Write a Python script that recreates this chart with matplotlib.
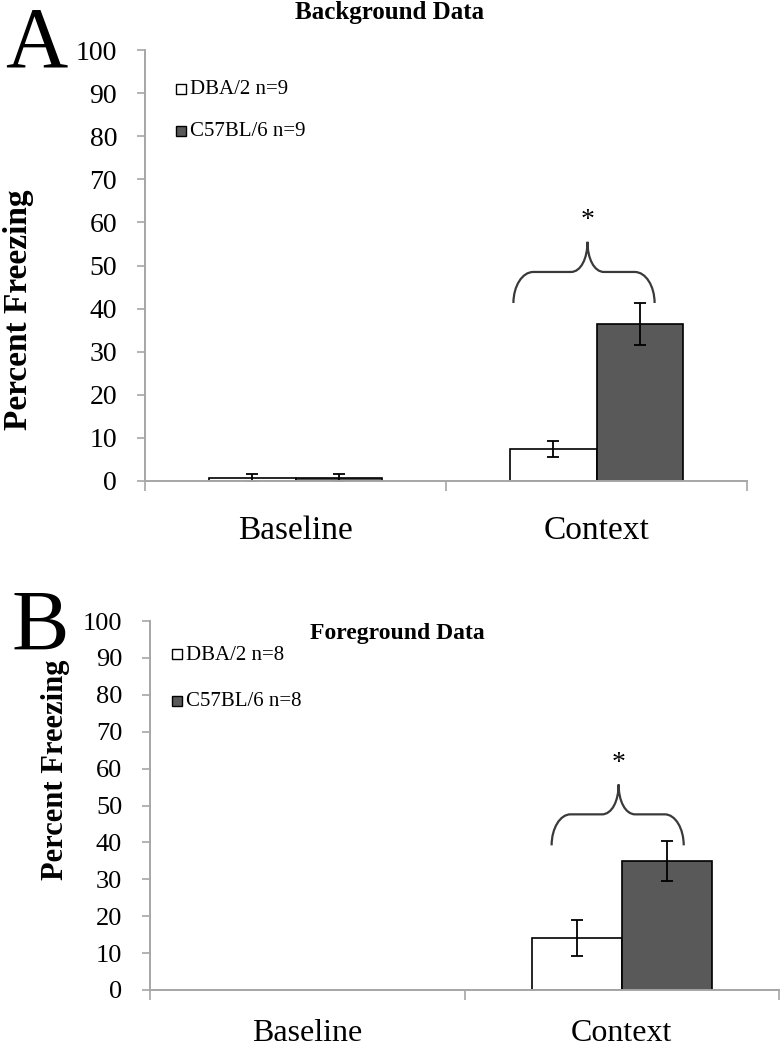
import matplotlib
matplotlib.use("Agg")
import matplotlib.pyplot as plt
import numpy as np
from matplotlib.patches import Rectangle, PathPatch
from matplotlib.path import Path

plt.rcParams['font.family'] = ['Liberation Serif', 'DejaVu Serif']

# ---------------- data ----------------
categories = ["Baseline", "Context"]
series_names_A = ["DBA/2 n=9", "C57BL/6 n=9"]
series_names_B = ["DBA/2 n=8", "C57BL/6 n=8"]
dba_A = [0.7, 7.4]
dba_A_err = [0.9, 1.8]
c57_A = [0.7, 36.4]
c57_A_err = [0.9, 4.8]
dba_B = [0.0, 14.1]
dba_B_err = [0.0, 4.9]
c57_B = [0.0, 34.9]
c57_B_err = [0.0, 5.4]
yticks = list(range(0, 101, 10))
title_A = "Background Data"
title_B = "Foreground Data"
ylabel = "Percent Freezing"

colors = ["white", "#595959"]
axis_gray = "#A6A6A6"

W, H = 780, 1050
fig = plt.figure(figsize=(W / 100, H / 100), dpi=100)


def fx(px):
    return px / W


def fy(py):
    return 1 - py / H


def draw_brace(ax, x0, x1, xt, yb, ym, yt, r, s):
    verts = [
        (x0, yb),
        (x0, yb + 0.55 * (ym - yb)), (x0 + 0.45 * r, ym), (x0 + r, ym),
        (xt - s, ym),
        (xt - 0.4 * s, ym), (xt, ym + 0.45 * (yt - ym)), (xt, yt),
        (xt, ym + 0.45 * (yt - ym)), (xt + 0.4 * s, ym), (xt + s, ym),
        (x1 - r, ym),
        (x1 - 0.45 * r, ym), (x1, yb + 0.55 * (ym - yb)), (x1, yb),
    ]
    codes = [Path.MOVETO,
             Path.CURVE4, Path.CURVE4, Path.CURVE4,
             Path.LINETO,
             Path.CURVE4, Path.CURVE4, Path.CURVE4,
             Path.CURVE4, Path.CURVE4, Path.CURVE4,
             Path.LINETO,
             Path.CURVE4, Path.CURVE4, Path.CURVE4]
    ax.add_patch(PathPatch(Path(verts, codes), facecolor="none",
                           edgecolor="#3a3a3a", lw=1.6, clip_on=False))


def panel(rect, d1, e1, d2, e2, names, title, letter, cfg):
    ax = fig.add_axes(rect)
    x = np.arange(len(categories))
    bw = 0.286
    for vals, errs, col, off in [(d1, e1, colors[0], -bw / 2), (d2, e2, colors[1], bw / 2)]:
        vals = np.array(vals)
        lws = [1.2 if v > 0 else 0 for v in vals]
        ax.bar(x + off, vals, width=bw, color=col, edgecolor="black",
               linewidth=lws, zorder=2)
        mask = np.array(errs) > 0
        ax.errorbar((x + off)[mask], vals[mask], yerr=np.array(errs)[mask],
                    fmt="none", ecolor="black", elinewidth=1.3, capsize=4,
                    capthick=1.3, zorder=3)
    ax.set_xlim(-0.5, len(categories) - 0.5)
    ax.set_ylim(0, 100)
    ax.set_yticks(yticks)
    ax.set_yticklabels([str(t) for t in yticks], fontsize=cfg["ytfs"])
    ax.set_xticks(x)
    ax.set_xticklabels(categories, fontsize=cfg["xtfs"])
    ax.set_xticks(np.arange(-0.5, len(categories), 1.0), minor=True)
    ax.tick_params(axis="x", which="major", length=0, pad=cfg["xpad"])
    ax.tick_params(axis="x", which="minor", length=7, width=1.2,
                   color=axis_gray, direction="out")
    ax.tick_params(axis="y", length=6, width=1.2, color=axis_gray,
                   pad=cfg["ypad"], direction="out")
    for sp in ["top", "right"]:
        ax.spines[sp].set_visible(False)
    for sp in ["left", "bottom"]:
        ax.spines[sp].set_color(axis_gray)
        ax.spines[sp].set_linewidth(1.4)
        ax.spines[sp].set_zorder(4)

    # title, panel letter, y label
    fig.text(fx(cfg["title_xy"][0]), fy(cfg["title_xy"][1]), title,
             fontsize=cfg["title_fs"], fontweight="bold", ha="center", va="center")
    fig.text(fx(cfg["letter_xy"][0]), fy(cfg["letter_xy"][1]), letter,
             fontsize=62, ha="center", va="center")
    fig.text(fx(cfg["ylab_xy"][0]), fy(cfg["ylab_xy"][1]), ylabel,
             fontsize=cfg["ylab_fs"], fontweight="bold", rotation=90,
             ha="center", va="center")

    # legend (manual)
    sq = 9.5
    for i, (nm, col) in enumerate(zip(names, colors)):
        cx, cy = cfg["leg_x"], cfg["leg_y"][i]
        fig.patches.append(Rectangle((fx(cx), fy(cy + sq / 2)), sq / W, sq / H,
                                     transform=fig.transFigure, facecolor=col,
                                     edgecolor="black", linewidth=1.0))
        fig.text(fx(cx + sq + 4), fy(cy + 1), nm, fontsize=cfg["leg_fs"],
                 ha="left", va="center")

    # significance brace
    b = cfg["brace"]
    draw_brace(ax, *b)
    ax.text(b[2], cfg["star_y"], "*", fontsize=20, ha="center", va="center")
    return ax


cfgA = dict(ytfs=20, xtfs=24, xpad=25, ypad=14, title_xy=(390, 12), title_fs=18,
            letter_xy=(36, 46), ylab_xy=(19, 310), ylab_fs=24,
            leg_x=176, leg_y=[89, 131], leg_fs=15,
            brace=(0.724, 1.193, 0.97, 41.3, 48.5, 55.5, 0.066, 0.055), star_y=60.5)
cfgB = dict(ytfs=19, xtfs=23, xpad=21, ypad=14, title_xy=(397, 633), title_fs=17,
            letter_xy=(40, 629), ylab_xy=(55, 770), ylab_fs=22,
            leg_x=172, leg_y=[654, 701], leg_fs=15,
            brace=(0.777, 1.197, 0.99, 39.2, 47.6, 55.7, 0.06, 0.053), star_y=61.5)

panel([fx(145), fy(481), 602 / W, 431 / H], dba_A, dba_A_err, c57_A, c57_A_err,
      series_names_A, title_A, "A", cfgA)
panel([fx(150), fy(990), 629 / W, 369 / H], dba_B, dba_B_err, c57_B, c57_B_err,
      series_names_B, title_B, "B", cfgB)

fig.savefig("out.png", dpi=100)
